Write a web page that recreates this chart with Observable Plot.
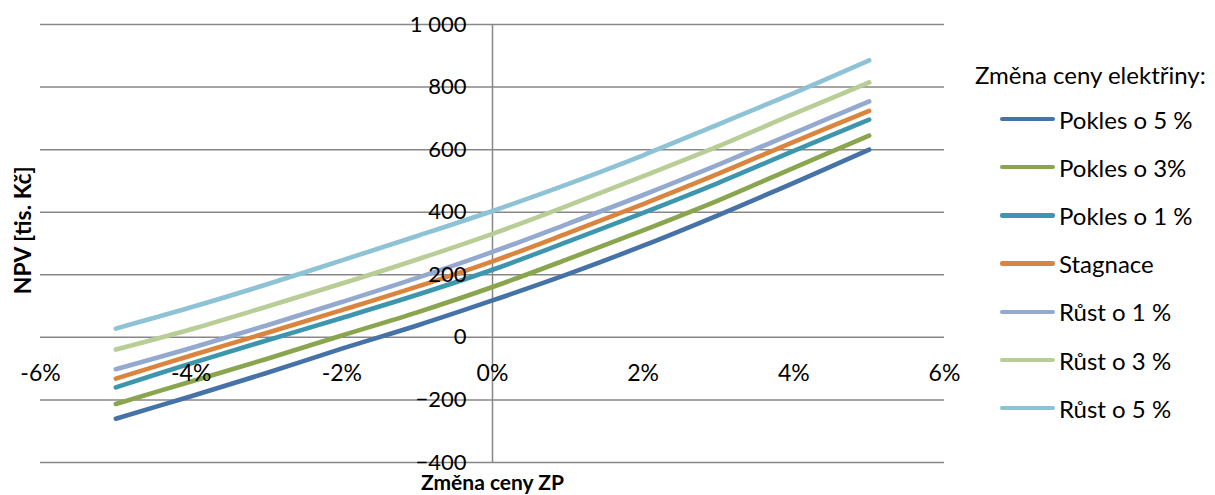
<!DOCTYPE html>
<html>
<head>
<meta charset="utf-8">
<script src="https://cdn.jsdelivr.net/npm/d3@7"></script>
<script src="https://cdn.jsdelivr.net/npm/@observablehq/plot@0.6"></script>
<style>
  html, body { margin: 0; padding: 0; background: #fff; }
  #wrap { position: relative; width: 1215px; height: 495px; font-family: Lato, "Open Sans", sans-serif; color: #000; }
  #chart { position: absolute; left: 0; top: 0; }
  #legend { position: absolute; left: 0; top: 0; width: 1215px; height: 495px; pointer-events: none; }
  .lg-title { position: absolute; left: 975px; font-size: 24px; line-height: 28px; white-space: nowrap; }
  .lg-item { position: absolute; left: 1000px; height: 28px; display: flex; align-items: center; white-space: nowrap; font-size: 24px; }
  .lg-sw { width: 55px; height: 4.5px; border-radius: 2.25px; margin-right: 4px; }
</style>
</head>
<body>
<div id="wrap">
  <div id="chart"></div>
  <div id="legend"></div>
</div>
<script>
// Data
const xValues = [-5, -4, -3, -2, -1, 0, 1, 2, 3, 4, 5];
const seriesNames = ["Pokles o 5 %", "Pokles o 3%", "Pokles o 1 %", "Stagnace", "Růst o 1 %", "Růst o 3 %", "Růst o 5 %"];
const pokles5 = [-260, -188, -114, -36, 38, 118, 202, 293, 391, 494, 600];
const pokles3 = [-213, -141, -69, 6, 80, 161, 250, 342, 438, 542, 645];
const pokles1 = [-160, -83, -10, 62, 136, 216, 306, 398, 494, 596, 696];
const stagnace = [-132, -58, 14, 87, 162, 243, 333, 426, 523, 625, 724];
const rust1 = [-102, -34, 38, 113, 190, 273, 363, 455, 552, 653, 754];
const rust3 = [-39, 26, 98, 172, 249, 331, 421, 515, 611, 714, 815];
const rust5 = [28, 96, 169, 246, 324, 404, 490, 582, 681, 781, 885];
const seriesColors = ["#4572A7", "#89A54E", "#3D96AE", "#DB843D", "#93A9CF", "#B9CD96", "#8EC3D6"];
const xTicks = [-6, -4, -2, 0, 2, 4, 6];
const yTicks = [-400, -200, 0, 200, 400, 600, 800, 1000];
const xTitle = "Změna ceny ZP";
const yTitle = "NPV [tis. Kč]";
const legendTitle = "Změna ceny elektřiny:";

const seriesValues = [pokles5, pokles3, pokles1, stagnace, rust1, rust3, rust5];
const rows = [];
seriesValues.forEach((vals, i) => {
  vals.forEach((v, j) => rows.push({series: seriesNames[i], x: xValues[j], y: v}));
});

const fmtY = d => d3.format(",")(d).replace(/,/g, " ");
const grid = "#878787";

const chart = Plot.plot({
  width: 965,
  height: 495,
  marginLeft: 40,
  marginRight: 21,
  marginTop: 24,
  marginBottom: 33,
  style: {fontFamily: "Lato, 'Open Sans', sans-serif", fontSize: "23px", color: "#000", background: "#fff"},
  x: {domain: [-6, 6], axis: null},
  y: {domain: [-400, 1000], axis: null},
  color: {domain: seriesNames, range: seriesColors},
  marks: [
    Plot.ruleY(yTicks, {stroke: grid, strokeWidth: 1.5}),
    Plot.ruleX([0], {y1: -400, y2: 1000, stroke: grid, strokeWidth: 1.5}),
    Plot.line(rows, {x: "x", y: "y", z: "series", stroke: "series", strokeWidth: 4.6, curve: "catmull-rom", strokeLinecap: "round"}),
    Plot.text(yTicks, {x: 0, y: d => d, text: fmtY, dx: -26, textAnchor: "end", fontSize: 22, fill: "#000"}),
    Plot.text(xTicks, {x: d => d, y: 0, text: d => d + "%", dy: 36, fontSize: 23, fill: "#000"}),
    Plot.text([xTitle], {x: 0, y: -400, dy: 21, fontWeight: "bold", fontSize: 21, fill: "#000"}),
    Plot.text([yTitle], {x: -6, y: 342, dx: -17, rotate: -90, fontWeight: "bold", fontSize: 23, fill: "#000"})
  ]
});
document.getElementById("chart").append(chart);

// Legend
const legend = document.getElementById("legend");
const t = document.createElement("div");
t.className = "lg-title";
t.style.top = (75 - 14) + "px";
t.textContent = legendTitle;
legend.append(t);
seriesNames.forEach((name, i) => {
  const it = document.createElement("div");
  it.className = "lg-item";
  it.style.top = (119 + i * 48.2 - 14) + "px";
  const sw = document.createElement("div");
  sw.className = "lg-sw";
  sw.style.background = seriesColors[i];
  const tx = document.createElement("span");
  tx.textContent = name;
  it.append(sw, tx);
  legend.append(it);
});
</script>
</body>
</html>
